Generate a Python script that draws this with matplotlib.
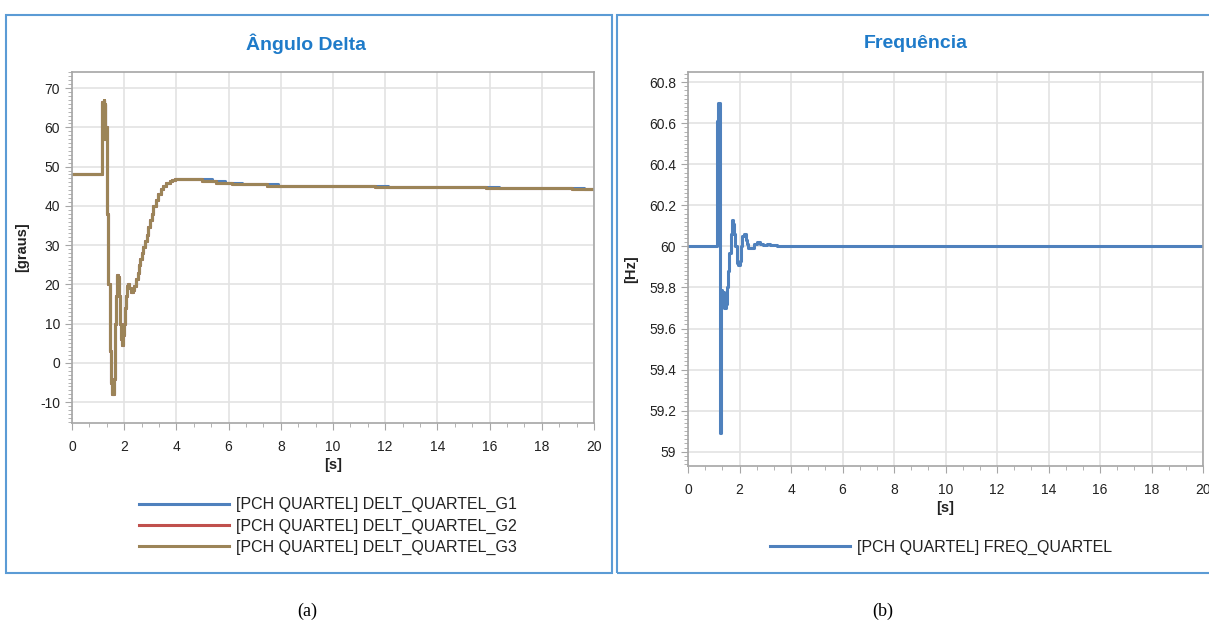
import matplotlib
matplotlib.use("Agg")
import matplotlib.pyplot as plt
from matplotlib.patches import Rectangle
from matplotlib.ticker import MultipleLocator, AutoMinorLocator, FormatStrFormatter
import numpy as np

plt.rcParams['font.family'] = ['Liberation Sans', 'DejaVu Sans']
plt.rcParams['axes.unicode_minus'] = False

# ---------------- data ----------------
# Delta angle (degrees) - transient part shared by the three generators
delta_t_transient = [0.0, 1.14, 1.16, 1.20, 1.22, 1.24, 1.26, 1.28, 1.30, 1.33, 1.36, 1.39,
                     1.46, 1.49, 1.52, 1.55, 1.62, 1.65, 1.68, 1.71, 1.74, 1.77, 1.80,
                     1.84, 1.87, 1.90, 1.93, 1.97, 2.00, 2.04, 2.07, 2.10, 2.13, 2.18,
                     2.25, 2.32, 2.38, 2.45, 2.52, 2.57, 2.61, 2.67, 2.73, 2.80, 2.86,
                     2.92, 2.99, 3.05, 3.12, 3.20, 3.31, 3.40, 3.50, 3.62, 3.75, 3.85, 3.95]
delta_transient = [48.1, 55.0, 66.5, 60.0, 67.0, 57.0, 66.0, 58.0, 60.0, 45.0, 38.0, 20.0,
                   3.0, -5.0, -7.5, -8.0, -4.0, 10.0, 17.0, 22.0, 22.5, 22.0, 17.0,
                   10.0, 6.0, 5.0, 4.5, 7.0, 10.0, 14.0, 17.0, 19.5, 20.0, 19.0,
                   18.0, 18.5, 19.5, 21.5, 23.0, 25.0, 26.5, 28.0, 29.5, 31.0, 32.5,
                   34.5, 36.5, 38.0, 40.0, 41.5, 43.0, 44.2, 45.0, 45.8, 46.3, 46.6, 46.8]
# slow tail: step instants differ slightly between G1 and G2/G3
delta_tail_t_g1 = [5.35, 5.85, 6.50, 7.90, 12.10, 16.35, 19.60]
delta_tail_t_g23 = [4.98, 5.50, 6.13, 7.47, 11.60, 15.86, 19.16]
delta_tail = [46.3, 45.9, 45.5, 45.1, 44.8, 44.5, 44.2]
delta_end_t = 20.0

# Frequency (Hz)
freq_t = [0.0, 1.11, 1.15, 1.255, 1.275, 1.29, 1.33, 1.36, 1.40, 1.46, 1.50, 1.57,
          1.61, 1.66, 1.70, 1.76, 1.80, 1.84, 1.89, 1.95, 2.02, 2.06, 2.11, 2.19,
          2.24, 2.28, 2.34, 2.47, 2.56, 2.69, 2.80, 2.93, 3.05, 3.18, 3.44, 20.0]
freq = [60.0, 60.61, 60.70, 59.09, 59.61, 59.79, 59.72, 59.78, 59.70, 59.72, 59.80, 59.88,
        59.97, 60.06, 60.13, 60.11, 60.06, 60.00, 59.92, 59.91, 59.93, 60.00, 60.05, 60.06,
        60.03, 60.01, 59.99, 59.99, 60.01, 60.02, 60.01, 60.005, 60.01, 60.005, 60.0, 60.0]

delta_labels = ["[PCH QUARTEL] DELT_QUARTEL_G1",
                "[PCH QUARTEL] DELT_QUARTEL_G2",
                "[PCH QUARTEL] DELT_QUARTEL_G3"]
freq_label = "[PCH QUARTEL] FREQ_QUARTEL"
titles = ["Ângulo Delta", "Frequência"]
captions = ["(a)", "(b)"]

# ---------------- styling ----------------
W, H = 1209, 626
fig = plt.figure(figsize=(W / 100, H / 100), dpi=100)

def fx(px):
    return px / W

def fy(py):
    return 1 - py / H

border_col = '#5B9BD5'
title_col = '#1F7BC9'
grid_col = '#E3E3E3'
spine_col = '#A6A6A6'
text_col = '#222222'
c_g1 = '#4F81BD'
c_g2 = '#C0504D'
c_g3 = '#9C8458'

# panel borders
fig.patches.append(Rectangle((fx(6), fy(573)), fx(606), 558 / H, transform=fig.transFigure,
                             fill=False, edgecolor=border_col, linewidth=1.5))
fig.patches.append(Rectangle((fx(617), fy(573)), fx(620), 558 / H, transform=fig.transFigure,
                             fill=False, edgecolor=border_col, linewidth=1.5, clip_on=False))


def style_axes(ax):
    for s in ax.spines.values():
        s.set_color(spine_col)
        s.set_linewidth(1.2)
    ax.grid(True, which='major', color=grid_col, linewidth=1.2)
    ax.set_axisbelow(True)
    ax.tick_params(which='major', direction='out', length=5, color=spine_col,
                   labelsize=10, labelcolor=text_col)
    ax.tick_params(axis='x', which='major', pad=7)
    ax.tick_params(which='minor', direction='out', length=3, color=spine_col)
    ax.tick_params(axis='both', which='both', top=False, right=False)


# ---------------- left: delta ----------------
axL = fig.add_axes([fx(72), fy(423), fx(594 - 72), (423 - 72) / H])
style_axes(axL)

t_g1 = delta_t_transient + delta_tail_t_g1 + [delta_end_t]
t_g23 = delta_t_transient + delta_tail_t_g23 + [delta_end_t]
v_all = delta_transient + delta_tail + [delta_tail[-1]]

axL.plot(t_g1, v_all, drawstyle='steps-post', color=c_g1, lw=2.2, label=delta_labels[0])
axL.plot(t_g23, v_all, drawstyle='steps-post', color=c_g2, lw=2.2, label=delta_labels[1])
axL.plot(t_g23, v_all, drawstyle='steps-post', color=c_g3, lw=2.2, label=delta_labels[2])

axL.set_xlim(0, 20)
axL.set_ylim(-15.3, 74.1)
axL.xaxis.set_major_locator(MultipleLocator(2))
axL.xaxis.set_minor_locator(AutoMinorLocator(3))
axL.yaxis.set_major_locator(MultipleLocator(10))
axL.yaxis.set_minor_locator(MultipleLocator(1))
axL.set_xlabel('[s]', fontsize=10.5, fontweight='bold', color=text_col, labelpad=3)
axL.set_ylabel('[graus]', fontsize=10.5, fontweight='bold', color=text_col, labelpad=8)

fig.text(fx(306), fy(44), titles[0], ha='center', va='center', fontsize=14,
         fontweight='bold', color=title_col)

handles, labels = axL.get_legend_handles_labels()
fig.legend(handles, labels, loc='center', bbox_to_anchor=(fx(328), fy(526)),
           frameon=False, fontsize=11.5, handlelength=5.6, handletextpad=0.45,
           labelspacing=0.38, labelcolor=text_col)

# ---------------- right: frequency ----------------
axR = fig.add_axes([fx(688), fy(466), fx(1203 - 688), (466 - 72) / H])
style_axes(axR)
lineR, = axR.plot(freq_t, freq, drawstyle='steps-post', color=c_g1, lw=2.2, label=freq_label)
axR.set_xlim(0, 20)
axR.set_ylim(58.93, 60.85)
axR.xaxis.set_major_locator(MultipleLocator(2))
axR.xaxis.set_minor_locator(AutoMinorLocator(3))
axR.yaxis.set_major_locator(MultipleLocator(0.2))
axR.yaxis.set_minor_locator(MultipleLocator(0.02))
axR.yaxis.set_major_formatter(FormatStrFormatter('%g'))
axR.set_xlabel('[s]', fontsize=10.5, fontweight='bold', color=text_col, labelpad=3)
axR.set_ylabel('[Hz]', fontsize=10.5, fontweight='bold', color=text_col, labelpad=8)

fig.text(fx(916), fy(44), titles[1], ha='center', va='center', fontsize=14,
         fontweight='bold', color=title_col)

fig.legend([lineR], [freq_label], loc='center', bbox_to_anchor=(fx(941), fy(547)),
           frameon=False, fontsize=11.5, handlelength=5.0, handletextpad=0.45,
           labelcolor=text_col)

# captions
fig.text(fx(307), fy(611), captions[0], ha='center', va='center', fontsize=13,
         family=['Liberation Serif', 'DejaVu Serif'], color='black')
fig.text(fx(883), fy(611), captions[1], ha='center', va='center', fontsize=13,
         family=['Liberation Serif', 'DejaVu Serif'], color='black')

fig.savefig('out.png', dpi=100)
